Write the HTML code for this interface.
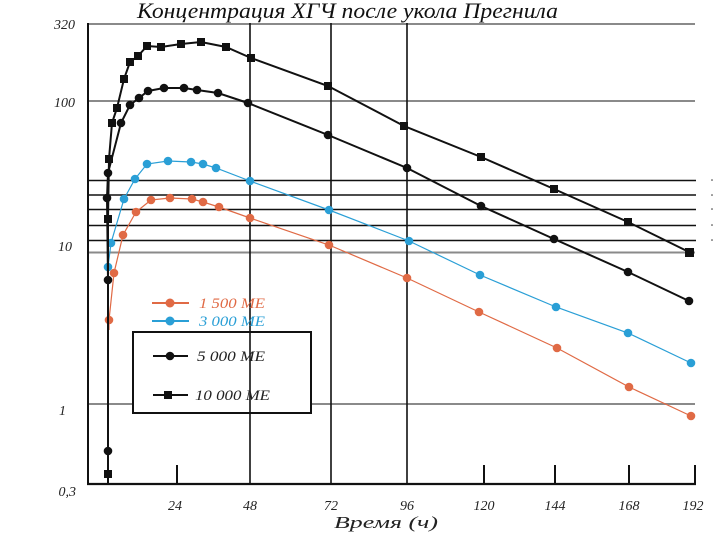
<!DOCTYPE html>
<html><head><meta charset="utf-8"><style>
html,body{margin:0;padding:0;background:#fff;}
svg{display:block;}
text{font-family:"Liberation Serif",serif;font-style:italic;}
</style></head><body>
<svg width="724" height="543" viewBox="0 0 724 543" xmlns="http://www.w3.org/2000/svg">
<rect width="724" height="543" fill="#fff"/>
<!-- title -->
<text x="137" y="18" font-size="22" textLength="421" lengthAdjust="spacingAndGlyphs" fill="#111">Концентрация ХГЧ после укола Прегнила</text>
<!-- gray grid -->
<g stroke="#8a8a8a" stroke-width="2">
<line x1="88" y1="24" x2="695" y2="24"/>
<line x1="88" y1="101" x2="695" y2="101"/>
<line x1="88" y1="252.5" x2="695" y2="252.5"/>
<line x1="88" y1="404" x2="695" y2="404"/>
</g>
<!-- black horizontal lines -->
<g stroke="#111" stroke-width="1.4">
<line x1="88" y1="180.5" x2="696" y2="180.5"/>
<line x1="88" y1="195" x2="696" y2="195"/>
<line x1="88" y1="209.5" x2="696" y2="209.5"/>
<line x1="88" y1="225.5" x2="696" y2="225.5"/>
<line x1="88" y1="240.5" x2="696" y2="240.5"/>
</g>
<g fill="#333"><circle cx="712" cy="180" r="0.8"/><circle cx="712" cy="195" r="0.8"/><circle cx="712" cy="209" r="0.8"/><circle cx="712" cy="225" r="0.8"/><circle cx="712" cy="240" r="0.8"/></g>
<!-- legend box -->
<rect x="133" y="332" width="178" height="81" fill="#fff" stroke="#111" stroke-width="2"/>
<!-- vertical lines -->
<g stroke="#111" stroke-width="1.6">
<line x1="250" y1="23" x2="250" y2="484"/>
<line x1="331" y1="23" x2="331" y2="484"/>
<line x1="407" y1="23" x2="407" y2="484"/>
</g>
<!-- ticks -->
<g stroke="#111" stroke-width="2">
<line x1="177" y1="465" x2="177" y2="484"/>
<line x1="484" y1="465" x2="484" y2="484"/>
<line x1="555" y1="465" x2="555" y2="484"/>
<line x1="629" y1="465" x2="629" y2="484"/>
<line x1="695" y1="465" x2="695" y2="484"/>
</g>
<!-- axes -->
<line x1="88" y1="23" x2="88" y2="485" stroke="#111" stroke-width="2"/>
<line x1="87" y1="484" x2="696" y2="484" stroke="#111" stroke-width="2.2"/>
<!-- y labels -->
<g font-size="14" fill="#222" text-anchor="end">
<text x="75" y="29">320</text>
<text x="75" y="107">100</text>
<text x="72" y="251">10</text>
<text x="66" y="415">1</text>
<text x="76" y="496">0,3</text>
</g>
<!-- x labels -->
<g font-size="14" fill="#222" text-anchor="middle">
<text x="175" y="510">24</text>
<text x="250" y="510">48</text>
<text x="331" y="510">72</text>
<text x="407" y="510">96</text>
<text x="484" y="510">120</text>
<text x="555" y="510">144</text>
<text x="629" y="510">168</text>
<text x="693" y="510">192</text>
</g>
<text x="334" y="528" font-size="17" fill="#222" textLength="104" lengthAdjust="spacingAndGlyphs">Время (ч)</text>

<!-- orange 1500 -->
<polyline fill="none" stroke="#e06a45" stroke-width="1.2" points="109,330 109,320 114,273 123,235 136,212 151,200 170,198 192,199 203,202 219,207 250,218 329,245 407,278 479,312 557,348 629,387 691,416"/>
<g fill="#e06a45">
<circle cx="109" cy="320" r="4.3"/><circle cx="114" cy="273" r="4.3"/><circle cx="123" cy="235" r="4.3"/><circle cx="136" cy="212" r="4.3"/><circle cx="151" cy="200" r="4.3"/><circle cx="170" cy="198" r="4.3"/><circle cx="192" cy="199" r="4.3"/><circle cx="203" cy="202" r="4.3"/><circle cx="219" cy="207" r="4.3"/><circle cx="250" cy="218" r="4.3"/><circle cx="329" cy="245" r="4.3"/><circle cx="407" cy="278" r="4.3"/><circle cx="479" cy="312" r="4.3"/><circle cx="557" cy="348" r="4.3"/><circle cx="629" cy="387" r="4.3"/><circle cx="691" cy="416" r="4.3"/>
</g>
<!-- blue 3000 -->
<polyline fill="none" stroke="#2a9fd6" stroke-width="1.2" points="108,267 111,243 124,199 135,179 147,164 168,161 191,162 203,164 216,168 250,181 329,210 409,241 480,275 556,307 628,333 691,363"/>
<g fill="#2a9fd6">
<circle cx="108" cy="267" r="4.3"/><circle cx="111" cy="243" r="4.3"/><circle cx="124" cy="199" r="4.3"/><circle cx="135" cy="179" r="4.3"/><circle cx="147" cy="164" r="4.3"/><circle cx="168" cy="161" r="4.3"/><circle cx="191" cy="162" r="4.3"/><circle cx="203" cy="164" r="4.3"/><circle cx="216" cy="168" r="4.3"/><circle cx="250" cy="181" r="4.3"/><circle cx="329" cy="210" r="4.3"/><circle cx="409" cy="241" r="4.3"/><circle cx="480" cy="275" r="4.3"/><circle cx="556" cy="307" r="4.3"/><circle cx="628" cy="333" r="4.3"/><circle cx="691" cy="363" r="4.3"/>
</g>
<!-- black 5000 circles -->
<polyline fill="none" stroke="#111" stroke-width="2" points="108,484 108,451 108,280 107,198 108,173 121,123 130,105 139,98 148,91 164,88 184,88 197,90 218,93 248,103 328,135 407,168 481,206 554,239 628,272 689,301"/>
<g fill="#111">
<circle cx="108" cy="451" r="4.3"/><circle cx="108" cy="280" r="4.3"/><circle cx="107" cy="198" r="4.3"/><circle cx="108" cy="173" r="4.3"/><circle cx="121" cy="123" r="4.3"/><circle cx="130" cy="105" r="4.3"/><circle cx="139" cy="98" r="4.3"/><circle cx="148" cy="91" r="4.3"/><circle cx="164" cy="88" r="4.3"/><circle cx="184" cy="88" r="4.3"/><circle cx="197" cy="90" r="4.3"/><circle cx="218" cy="93" r="4.3"/><circle cx="248" cy="103" r="4.3"/><circle cx="328" cy="135" r="4.3"/><circle cx="407" cy="168" r="4.3"/><circle cx="481" cy="206" r="4.3"/><circle cx="554" cy="239" r="4.3"/><circle cx="628" cy="272" r="4.3"/><circle cx="689" cy="301" r="4.3"/>
</g>
<!-- black 10000 squares -->
<polyline fill="none" stroke="#111" stroke-width="2" points="108,484 108,474 108,219 109,159 112,123 117,108 124,79 130,62 138,56 147,46 161,47 181,44 201,42 226,47 251,58 328,86 404,126 481,157 554,189 628,222 689,252"/>
<g fill="#111">
<rect x="104" y="470" width="8" height="8"/><rect x="104" y="215" width="8" height="8"/><rect x="105" y="155" width="8" height="8"/><rect x="108" y="119" width="8" height="8"/><rect x="113" y="104" width="8" height="8"/><rect x="120" y="75" width="8" height="8"/><rect x="126" y="58" width="8" height="8"/><rect x="134" y="52" width="8" height="8"/><rect x="143" y="42" width="8" height="8"/><rect x="157" y="43" width="8" height="8"/><rect x="177" y="40" width="8" height="8"/><rect x="197" y="38" width="8" height="8"/><rect x="222" y="43" width="8" height="8"/><rect x="247" y="54" width="8" height="8"/><rect x="324" y="82" width="8" height="8"/><rect x="400" y="122" width="8" height="8"/><rect x="477" y="153" width="8" height="8"/><rect x="550" y="185" width="8" height="8"/><rect x="624" y="218" width="8" height="8"/><rect x="685" y="248" width="9" height="9"/>
</g>
<!-- legend entries -->
<line x1="152" y1="303" x2="189" y2="303" stroke="#e06a45" stroke-width="2"/>
<circle cx="170" cy="303" r="4.5" fill="#e06a45"/>
<text x="199" y="308" font-size="15" fill="#e06a45" textLength="66" lengthAdjust="spacingAndGlyphs">1 500 МЕ</text>
<line x1="152" y1="321" x2="189" y2="321" stroke="#2a9fd6" stroke-width="2"/>
<circle cx="170" cy="321" r="4.5" fill="#2a9fd6"/>
<text x="199" y="326" font-size="15" fill="#2a9fd6" textLength="66" lengthAdjust="spacingAndGlyphs">3 000 МЕ</text>
<line x1="153" y1="356" x2="188" y2="356" stroke="#111" stroke-width="2"/>
<circle cx="170" cy="356" r="4.3" fill="#111"/>
<text x="197" y="361" font-size="15" fill="#222" textLength="68" lengthAdjust="spacingAndGlyphs">5 000 МЕ</text>
<line x1="153" y1="395" x2="188" y2="395" stroke="#111" stroke-width="2"/>
<rect x="164" y="391" width="8" height="8" fill="#111"/>
<text x="195" y="400" font-size="15" fill="#222" textLength="75" lengthAdjust="spacingAndGlyphs">10 000 МЕ</text>
</svg>
</body></html>
